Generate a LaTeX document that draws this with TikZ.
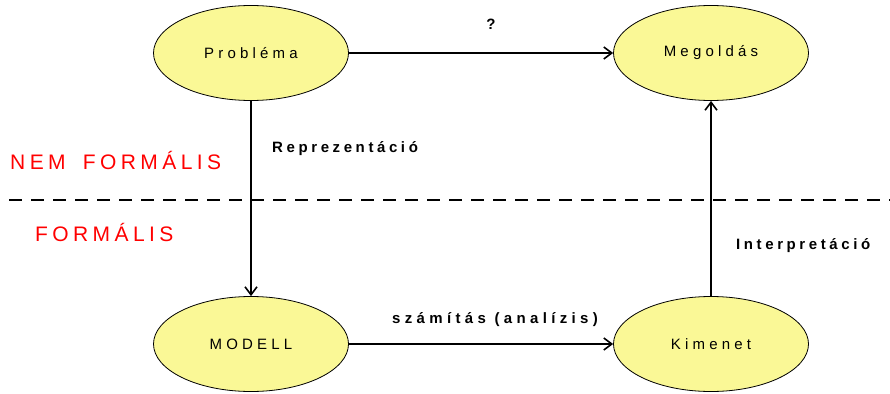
\documentclass[tikz,border=0pt]{standalone}
\usepackage{fontspec}
\setmainfont{Liberation Sans}
\newfontfamily\ellfont[LetterSpace=28]{Liberation Sans}
\newfontfamily\labfont[LetterSpace=24]{Liberation Sans}
\newfontfamily\labwfont[LetterSpace=29]{Liberation Sans}
\newfontfamily\redfont[LetterSpace=21]{Liberation Sans}
\usetikzlibrary{arrows.meta,shapes.geometric}
\definecolor{ellfill}{RGB}{250,248,150}
\definecolor{redtxt}{RGB}{255,0,0}
\begin{document}
\begin{tikzpicture}[x=1pt,y=-1pt,
  ell/.style={ellipse,draw=black,line width=0.8pt,fill=ellfill,minimum width=195pt,minimum height=95pt,inner sep=0pt,font=\ellfont\fontsize{15}{18}\selectfont},
  conn/.style={line width=1.6pt,-{Straight Barb[length=8pt,width=12pt,line width=1.6pt]}},
  lab/.style={font=\labfont\bfseries\fontsize{15}{18}\selectfont,inner sep=0pt},
  labw/.style={font=\labwfont\bfseries\fontsize{15}{18}\selectfont,inner sep=0pt},
  zone/.style={font=\redfont\fontsize{21}{25}\selectfont,text=redtxt,inner sep=0pt},
  sep/.style={line width=1.5pt,dash pattern=on 13pt off 9pt}]
\useasboundingbox (0,0) rectangle (890,393);
\coordinate (dl) at (9,200);
\coordinate (dr) at (890,200);
\draw[sep] (dl) -- (dr);
\node[ell] (P) at (251,53) {Probléma};
\node[ell] (M) at (711,53) {Megoldás};
\node[ell] (D) at (251,344) {MODELL};
\node[ell] (K) at (711,344) {Kimenet};
\draw[conn] (P) -- (M);
\draw[conn] (P) -- (D);
\draw[conn] (D) -- (K);
\draw[conn] (K) -- (M);
\node[lab,anchor=base] (q) at (491,30) {?};
\node[lab,anchor=base west] (rep) at (272,152.7) {Reprezentáció};
\node[lab,anchor=base west] (int) at (736,249.3) {Interpretáció};
\node[labw,anchor=base west] (szam) at (392,323.5) {számítás (analízis)};
\node[zone,anchor=base west] (nf) at (10,169.3) {NEM\hspace{7pt} FORMÁLIS};
\node[zone,anchor=base west] (f) at (35,241.7) {FORMÁLIS};
\end{tikzpicture}
\end{document}
